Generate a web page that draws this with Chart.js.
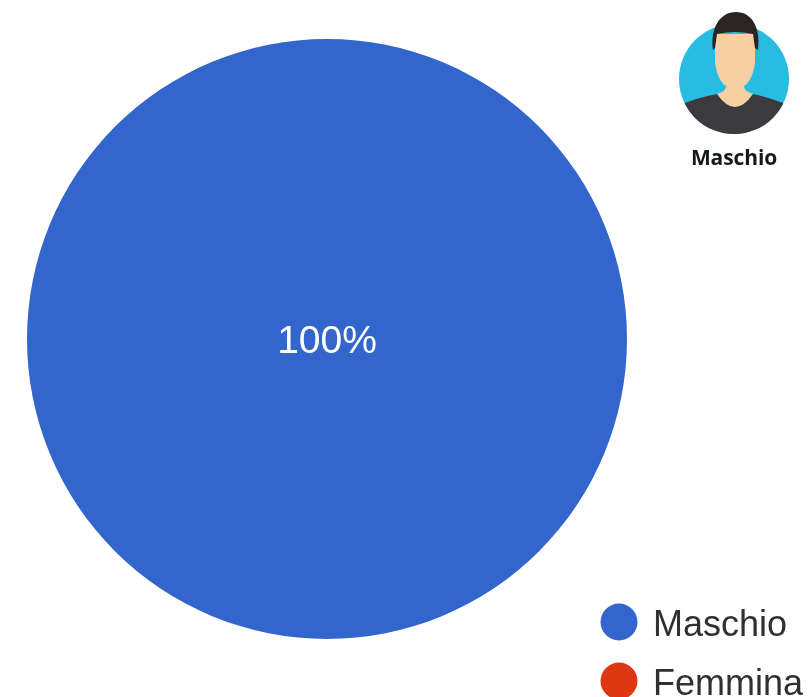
<!DOCTYPE html>
<html>
<head>
<meta charset="utf-8">
<style>
  body { margin: 0; background: #fff; overflow: hidden; }
  #wrap { position: relative; width: 808px; height: 697px; }
  #avatar { position: absolute; left: 660px; top: 0; }
  #caption { position: absolute; left: 660px; top: 143px; width: 148px; text-align: center;
    font: bold 21px "Open Sans", sans-serif; color: #15191f; letter-spacing: -0.1px; }
</style>
<script src="https://cdn.jsdelivr.net/npm/chart.js@4"></script>
</head>
<body>
<div id="wrap">
  <canvas id="torta" width="808" height="697"></canvas>
  <svg id="avatar" width="148" height="146" viewBox="0 0 148 146">
    <defs><clipPath id="cerchio"><circle cx="74" cy="79" r="55"/></clipPath></defs>
    <circle cx="74" cy="79" r="55" fill="#29bce2"/>
    <g clip-path="url(#cerchio)">
      <path d="M18 106 Q35 98 57 94 L93 94 Q112 98 130 106 L130 140 L18 140 Z" fill="#3b3b3d"/>
    </g>
    <path d="M57 94 Q75 120 93 94 Q83 92 82 80 L68 80 Q67 92 57 94 Z" fill="#f6cfa3"/>
    <path d="M55 34 L95 34 L95 62 Q92 88 75 89 Q58 88 55 62 Z" fill="#f6cfa3"/>
    <path d="M53 50 C50 28 60 12 76 12 C92 12 101 28 98 50 L95 48 L93 34 Q75 30 57 34 L55 48 Z" fill="#2a2422"/>
  </svg>
  <div id="caption">Maschio</div>
</div>
<script>
const categories = ['Maschio', 'Femmina'];
const values = [100, 0];
const colori = ['#3366cc', '#dc3912'];

// etichetta percentuale al centro e legenda in basso a destra
const extra = {
  id: 'extra',
  afterDraw(chart) {
    const c = chart.ctx;
    const arc = chart.getDatasetMeta(0).data[0];
    c.save();
    c.fillStyle = '#ffffff';
    c.font = '39px "Liberation Sans", Arial, sans-serif';
    c.textAlign = 'center';
    c.textBaseline = 'middle';
    const tot = values.reduce((a, b) => a + b, 0);
    c.fillText(Math.round(values[0] / tot * 100) + '%', arc.x, arc.y + 3);

    c.font = '36px "Liberation Sans", Arial, sans-serif';
    c.textAlign = 'left';
    categories.forEach((nome, i) => {
      const y = 622 + i * 59;
      c.fillStyle = colori[i];
      c.beginPath();
      c.arc(619, y, 18.5, 0, Math.PI * 2);
      c.fill();
      c.fillStyle = '#303030';
      c.fillText(nome, 653, y + 4);
    });
    c.restore();
  }
};

const ctx = document.getElementById('torta');

new Chart(ctx, {
  type: 'pie',
  data: {
    labels: categories,
    datasets: [{
      data: values,
      backgroundColor: colori,
      borderWidth: 0
    }]
  },
  options: {
    responsive: false,
    animation: false,
    layout: {
      padding: { left: 27, right: 181, top: 39, bottom: 58 }
    },
    plugins: {
      legend: { display: false },
      tooltip: { enabled: false }
    }
  },
  plugins: [extra]
});
</script>
</body>
</html>
